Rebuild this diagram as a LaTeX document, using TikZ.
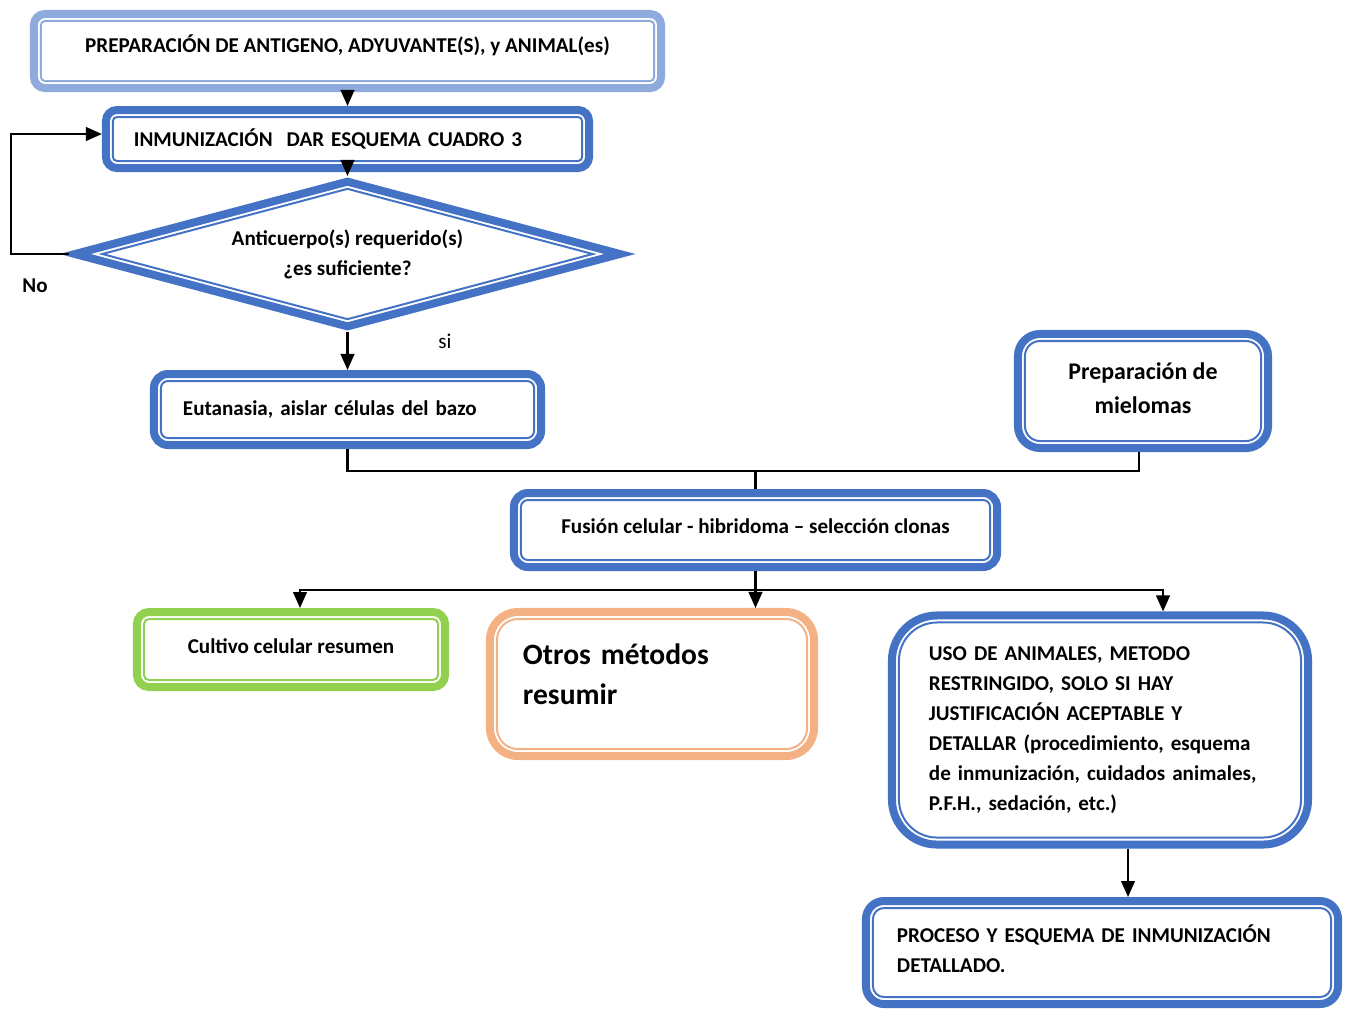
\documentclass[tikz,border=0pt]{standalone}
\usepackage{fontspec}
\setmainfont{Carlito}
\usetikzlibrary{shapes.geometric, arrows.meta, positioning}

\definecolor{azul}{HTML}{4472C4}
\definecolor{azulclaro}{HTML}{8FAADC}
\definecolor{verde}{HTML}{92D050}
\definecolor{naranja}{HTML}{F4B183}

\begin{document}
\begin{tikzpicture}[x=0.025cm, y=-0.025cm, % one unit is one pixel, y goes down
  >={Triangle[length=0.4cm, width=0.34cm]}, % filled arrow heads
  font=\bfseries\fontsize{15}{21.3}\selectfont, % text of every box
  caja/.style 2 args={rectangle, draw=#1, line width=0.2cm, rounded corners=#2, align=center,
    path picture={\draw[#1, line width=0.05cm, rounded corners=#2-0.175cm]
      ([shift={(0.175cm,0.175cm)}]path picture bounding box.south west) rectangle
      ([shift={(-0.175cm,-0.175cm)}]path picture bounding box.north east);}}, % double border
  rombo/.style={diamond, draw=azul, line width=0.2cm, aspect=3.77, inner sep=0pt, align=center,
    path picture={\draw[azul, line width=0.05cm]
      ([xshift=0.68cm]path picture bounding box.west) -- ([yshift=-0.18cm]path picture bounding box.north) --
      ([xshift=-0.68cm]path picture bounding box.east) -- ([yshift=0.18cm]path picture bounding box.south) -- cycle;}},
  flecha/.style={line width=0.055cm}, % connectors
]
  \useasboundingbox (0,0) rectangle (1352,1009);

  \node[caja={azulclaro}{0.275cm}, minimum width=15.675cm, minimum height=1.85cm, text depth=0.35cm] (prep) at (347.5,51) {PREPARACIÓN DE ANTIGENO, ADYUVANTE(S), y ANIMAL(es)};
  \node[caja={azul}{0.275cm}, minimum width=12.075cm, minimum height=1.45cm, text width=10.675cm, inner xsep=0.7cm, align=left] (inmu) at (347.5,139) {INMUNIZACIÓN\ \ DAR ESQUEMA CUADRO 3};
  \node[rombo, minimum width=13.7cm, minimum height=3.7cm] (anti) at (347.5,254) {Anticuerpo(s) requerido(s)\\¿es suficiente?};
  \node[caja={azul}{0.35cm}, minimum width=9.675cm, minimum height=1.775cm, text width=8.225cm, inner xsep=0.725cm, align=left] (euta) at (347.5,409.5) {Eutanasia, aislar células del bazo};
  \node[caja={azul}{0.55cm}, minimum width=6.25cm, minimum height=2.85cm, text depth=0.15cm, font=\bfseries\fontsize{17}{24.2}\selectfont] (miel) at (1143,391) {Preparación de\\mielomas};
  \node[caja={azul}{0.35cm}, minimum width=12.075cm, minimum height=1.85cm, text depth=0.2cm] (fusi) at (755.5,530) {Fusión celular - hibridoma – selección clonas};
  \node[caja={verde}{0.3cm}, minimum width=7.7cm, minimum height=1.875cm, text depth=0.15cm] (cult) at (291,649.5) {Cultivo celular resumen};
  \node[caja={naranja}{0.7cm}, minimum width=8.1cm, minimum height=3.6cm, text width=6.45cm, inner xsep=0.825cm, align=left, text depth=1.5cm, font=\bfseries\fontsize{21}{28.5}\selectfont] (otro) at (652,684) {Otros métodos\\resumir};
  \node[caja={azul}{1.125cm}, minimum width=10.4cm, minimum height=5.725cm, text width=8.55cm, inner xsep=0.925cm, align=left] (anim) at (1100,730) {USO DE ANIMALES, METODO\\RESTRINGIDO, SOLO SI HAY\\JUSTIFICACIÓN ACEPTABLE Y\\DETALLAR (procedimiento, esquema\\de inmunización, cuidados animales,\\P.F.H., sedación, etc.)};
  \node[caja={azul}{0.45cm}, minimum width=11.8cm, minimum height=2.575cm, text width=10.25cm, inner xsep=0.775cm, align=left, text depth=0.95cm] (proc) at (1102,952.5) {PROCESO Y ESQUEMA DE INMUNIZACIÓN\\DETALLADO.};

  \node (no) at (35,286) {No};
  \node[font=\mdseries\fontsize{15}{18}\selectfont] (si) at (445,341) {si};

  \coordinate (vuelta) at (11,254);
  \coordinate (union) at (755.5,471);
  \coordinate (reparto) at (755.5,590);

  \draw[flecha, ->] (prep.south) -- (inmu.north);
  \draw[flecha, ->] (inmu.south) -- (anti.north);
  \draw[flecha, ->] (anti.west) -- (vuelta) |- ([yshift=0.125cm]inmu.west);
  \draw[flecha, ->] (anti.south) -- (euta.north);
  \draw[flecha] (euta.south) |- (union) -| ([xshift=-0.1cm]miel.south);
  \draw[flecha] (union) -- (fusi.north);
  \draw[flecha, ->] (fusi.south) -- (fusi.south |- otro.north);
  \draw[flecha, ->] (reparto) -| ([xshift=0.225cm]cult.north);
  \draw[flecha, ->] (reparto) -| ([xshift=1.575cm]anim.north);
  \draw[flecha, ->] ([xshift=0.7cm]anim.south) -- ([xshift=0.7cm]anim.south |- proc.north);
\end{tikzpicture}
\end{document}
